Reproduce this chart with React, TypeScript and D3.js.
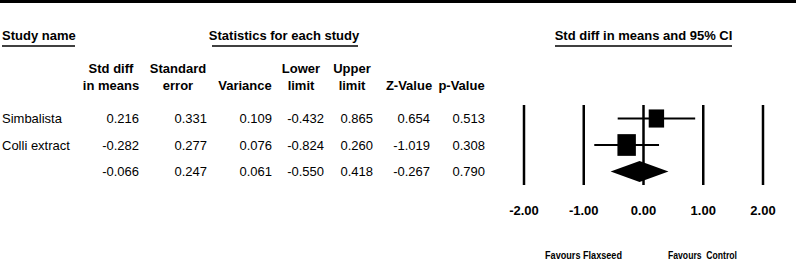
import React from "react";
import * as d3 from "d3";

const studyNames = ["Simbalista", "Colli extract", ""];
const stdDiff = [0.216, -0.282, -0.066];
const stdErr = [0.331, 0.277, 0.247];
const variance = [0.109, 0.076, 0.061];
const lowerLimit = [-0.432, -0.824, -0.55];
const upperLimit = [0.865, 0.26, 0.418];
const zValue = [0.654, -1.019, -0.267];
const pValue = [0.513, 0.308, 0.79];
const isSummary = [false, false, true];
const axisTicks = [-2, -1, 0, 1, 2];

const FONT = "'Liberation Sans', Arial, Helvetica, sans-serif";

const hyphen = (s: string) => s.replace(/\u2212/g, "-");

export default function App() {
  const W = 797;
  const H = 260;
  const x = d3.scaleLinear().domain([-2, 2]).range([524, 763]);
  const rowY = d3.scaleLinear().domain([0, 1]).range([118.5, 145]);
  const f3 = d3.format(".3f");
  const f2 = d3.format(".2f");
  const fmt = (v: number) => hyphen(f3(v));
  const sizeScale = d3.scaleSqrt().domain([0, 1 / 0.076]).range([0, 21.7]);

  const cols = [
    { h1: "Std diff", h2: "in means", hc: 111, right: 139, vals: stdDiff },
    { h1: "Standard", h2: "error", hc: 178, right: 207, vals: stdErr },
    { h1: "", h2: "Variance", hc: 245, right: 272, vals: variance },
    { h1: "Lower", h2: "limit", hc: 301, right: 324, vals: lowerLimit },
    { h1: "Upper", h2: "limit", hc: 352, right: 373, vals: upperLimit },
    { h1: "", h2: "Z-Value", hc: 409, right: 430, vals: zValue },
    { h1: "", h2: "p-Value", hc: 461.5, right: 485, vals: pValue },
  ];

  return (
    <svg
      width={W}
      height={H}
      style={{ position: "absolute", left: 0, top: 0, background: "#fff" }}
      fontFamily={FONT}
    >
      <rect x={0} y={0} width={796} height={3} fill="#000" />

      {/* section headers */}
      <text x={2} y={40} fontSize={13} fontWeight="bold">Study name</text>
      <line x1={2} x2={75} y1={46} y2={46} stroke="#000" strokeWidth={1.5} />
      <text x={284} y={40} fontSize={13} fontWeight="bold" textAnchor="middle">
        Statistics for each study
      </text>
      <line x1={212} x2={358} y1={46} y2={46} stroke="#000" strokeWidth={1.5} />
      <text x={643.5} y={40} fontSize={13} fontWeight="bold" textAnchor="middle">
        Std diff in means and 95% CI
      </text>
      <line x1={555} x2={732} y1={46} y2={46} stroke="#000" strokeWidth={1.5} />

      {/* column headers */}
      {cols.map((c, i) => (
        <g key={"h" + i} fontSize={13} fontWeight="bold" textAnchor="middle">
          {c.h1 && <text x={c.hc} y={73}>{c.h1}</text>}
          <text x={c.hc} y={90}>{c.h2}</text>
        </g>
      ))}

      {/* rows */}
      {studyNames.map((name, r) => {
        const cy = rowY(r);
        return (
          <g key={"r" + r} fontSize={13}>
            {name && <text x={2} y={cy + 4.7}>{name}</text>}
            {cols.map((c, i) => (
              <text key={i} x={c.right} y={cy + 4.7} textAnchor="end">
                {fmt(c.vals[r])}
              </text>
            ))}
          </g>
        );
      })}

      {/* forest plot reference lines */}
      {axisTicks.map((t) => (
        <line key={"v" + t} x1={x(t)} x2={x(t)} y1={105} y2={185} stroke="#000" strokeWidth={2.5} />
      ))}

      {/* study marks */}
      {studyNames.map((_, r) => {
        const cy = rowY(r);
        if (isSummary[r]) {
          const hh = 10.5;
          const pts = [
            [x(lowerLimit[r]), cy],
            [x(stdDiff[r]), cy - hh],
            [x(upperLimit[r]), cy],
            [x(stdDiff[r]), cy + hh],
          ];
          return <polygon key={"m" + r} points={pts.map((p) => p.join(",")).join(" ")} fill="#000" />;
        }
        const h = sizeScale(1 / variance[r]);
        const w = h * 0.85;
        return (
          <g key={"m" + r}>
            <line x1={x(lowerLimit[r])} x2={x(upperLimit[r])} y1={cy} y2={cy} stroke="#000" strokeWidth={2} />
            <rect x={x(stdDiff[r]) - w / 2} y={cy - h / 2} width={w} height={h} fill="#000" />
          </g>
        );
      })}

      {/* tick labels */}
      {axisTicks.map((t) => (
        <text key={"t" + t} x={x(t)} y={215} fontSize={13} fontWeight="bold" textAnchor="middle">
          {hyphen(f2(t))}
        </text>
      ))}

      <text x={545} y={259} fontSize={10} fontWeight="bold" textLength={77} lengthAdjust="spacingAndGlyphs">
        Favours Flaxseed
      </text>
      <text x={668} y={259} fontSize={10} fontWeight="bold" textLength={69} lengthAdjust="spacingAndGlyphs" style={{ whiteSpace: "pre" }}>
        Favours  Control
      </text>
    </svg>
  );
}
